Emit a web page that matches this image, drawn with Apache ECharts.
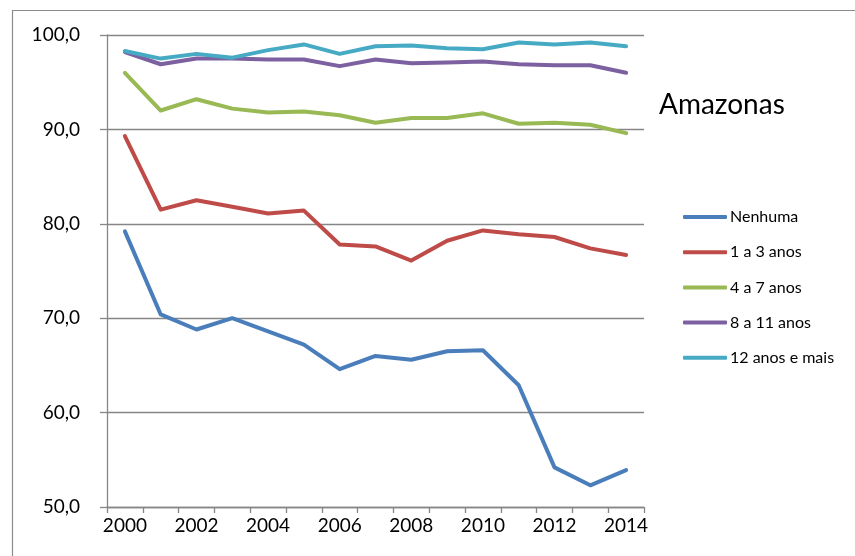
<!DOCTYPE html>
<html>
<head>
<meta charset="utf-8">
<script src="https://cdn.jsdelivr.net/npm/echarts@6/dist/echarts.min.js"></script>
<style>
html,body{margin:0;padding:0;background:#fff;}
#chart{width:855px;height:556px;}
</style>
</head>
<body>
<div id="chart"></div>
<script>
const years = ['2000','2001','2002','2003','2004','2005','2006','2007','2008','2009','2010','2011','2012','2013','2014'];
const seriesNames = ['Nenhuma','1 a 3 anos','4 a 7 anos','8 a 11 anos','12 anos e mais'];
const nenhuma = [79.2,70.4,68.8,70.0,68.6,67.2,64.6,66.0,65.6,66.5,66.6,62.9,54.2,52.3,53.9];
const anos1a3 = [89.3,81.5,82.5,81.8,81.1,81.4,77.8,77.6,76.1,78.2,79.3,78.9,78.6,77.4,76.7];
const anos4a7 = [96.0,92.0,93.2,92.2,91.8,91.9,91.5,90.7,91.2,91.2,91.7,90.6,90.7,90.5,89.6];
const anos8a11 = [98.2,96.9,97.5,97.5,97.4,97.4,96.7,97.4,97.0,97.1,97.2,96.9,96.8,96.8,96.0];
const anos12mais = [98.3,97.5,98.0,97.6,98.4,99.0,98.0,98.8,98.9,98.6,98.5,99.2,99.0,99.2,98.8];
const colors = ['#4A7EBB','#BE4B48','#98B954','#7D60A0','#46AAC5'];
const allValues = [nenhuma, anos1a3, anos4a7, anos8a11, anos12mais];

const chart = echarts.init(document.getElementById('chart'), null, {renderer:'canvas'});
const FONT = 'Lato, "Open Sans", sans-serif';
chart.setOption({
  animation:false,
  backgroundColor:'#fff',
  color:colors,
  graphic:[{
    type:'rect',
    shape:{x:12.5,y:10.5,width:900,height:700},
    style:{fill:'none',stroke:'#8c8c8c',lineWidth:1.2},
    silent:true
  }],
  title:{
    text:'Amazonas',
    left:654,
    top:86,
    textStyle:{fontFamily:FONT,fontSize:28,fontWeight:'normal',color:'#000'}
  },
  legend:{
    orient:'vertical',
    left:678,
    top:202,
    itemWidth:44,
    itemHeight:4,
    itemGap:15.2,
    icon:'roundRect',
    data:seriesNames,
    textStyle:{fontFamily:FONT,fontSize:16,color:'#000',lineHeight:20,padding:[0,0,0,-2]}
  },
  grid:{left:107,right:211,top:35,bottom:49,containLabel:false},
  xAxis:{
    type:'category',
    data:years,
    boundaryGap:true,
    axisLine:{lineStyle:{color:'#868686',width:1.3}},
    axisTick:{show:true,interval:0,length:6,lineStyle:{color:'#868686',width:1.3}},
    axisLabel:{interval:1,fontFamily:FONT,fontSize:19,color:'#000',margin:9}
  },
  yAxis:{
    type:'value',
    min:50,max:100,interval:10,
    axisLine:{show:true,lineStyle:{color:'#868686',width:1.3}},
    axisTick:{show:true,length:7,lineStyle:{color:'#868686',width:1.3}},
    splitLine:{lineStyle:{color:'#868686',width:1.3}},
    axisLabel:{fontFamily:FONT,fontSize:19,color:'#000',margin:27,
      formatter:v=>v.toFixed(1).replace('.',',')}
  },
  series:seriesNames.map((n,i)=>({
    name:n,type:'line',data:allValues[i],
    symbol:'none',showSymbol:false,
    lineStyle:{width:4,color:colors[i],cap:'round',join:'round'},
    itemStyle:{color:colors[i]}
  }))
});
</script>
</body>
</html>
